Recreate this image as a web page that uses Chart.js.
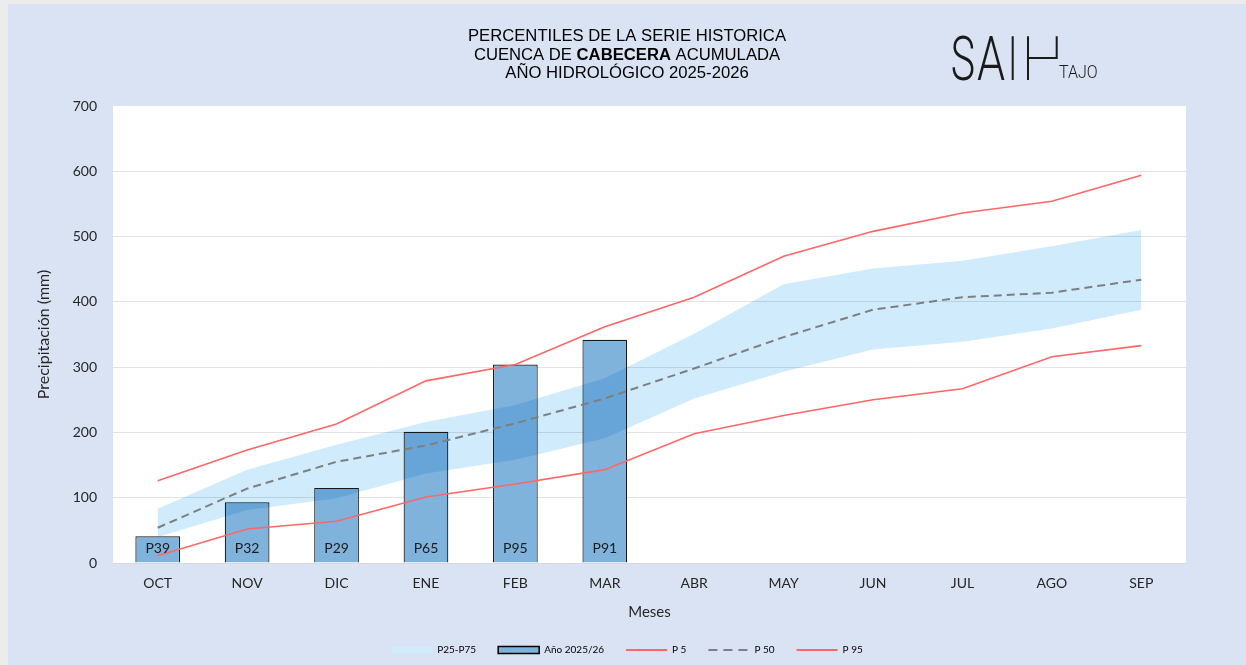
<!DOCTYPE html>
<html lang="es">
<head>
<meta charset="utf-8">
<title>Percentiles serie histórica - Cuenca de Cabecera</title>
<script src="https://cdn.jsdelivr.net/npm/chart.js@4.4.1/dist/chart.umd.min.js"></script>
<style>
  html, body { margin: 0; padding: 0; background: #dae3f3; overflow: hidden; }
  #wrap { position: absolute; left: 0; top: 0; width: 1246px; height: 665px; }
  #chart { display: block; }
</style>
</head>
<body>
<div id="wrap"><canvas id="chart" width="1246" height="665"></canvas></div>
<script>
// --- datos ---
const meses = ['OCT', 'NOV', 'DIC', 'ENE', 'FEB', 'MAR', 'ABR', 'MAY', 'JUN', 'JUL', 'AGO', 'SEP'];
const acumulado = [41, 93, 115, 201, 304, 342, null, null, null, null, null, null];
const percentilMes = ['P39', 'P32', 'P29', 'P65', 'P95', 'P91'];
const p5 = [11, 52, 64, 101, 121, 143, 198, 226, 250, 267, 316, 333];
const p25 = [40, 81, 99, 137, 158, 191, 252, 293, 327, 339, 359, 388];
const p50 = [54, 114, 155, 180, 214, 252, 298, 346, 388, 407, 414, 434];
const p75 = [83, 143, 181, 216, 242, 283, 351, 427, 451, 463, 485, 510];
const p95 = [126, 173, 213, 279, 304, 362, 407, 470, 508, 536, 554, 594];
const yTicks = [0, 100, 200, 300, 400, 500, 600, 700];

const bandColor = '#cfebfc';
const barColor = '#7fb3dc';
const red = '#ff6666';
const gray = '#7f7f7f';

Chart.defaults.font.family = 'Lato, "Open Sans", sans-serif';
Chart.defaults.color = '#262626';

// fondo azul del panel + area blanca del grafico
const fondo = {
  id: 'fondo',
  beforeDraw(chart) {
    const {ctx, chartArea: a} = chart;
    ctx.save();
    ctx.fillStyle = '#dae3f3';
    ctx.fillRect(0, 0, chart.width, chart.height);
    // borde claro arriba y a la izquierda
    ctx.fillStyle = '#ececec';
    ctx.fillRect(0, 0, chart.width, 4);
    ctx.fillRect(0, 0, 8, chart.height);
    ctx.fillStyle = '#ffffff';
    ctx.fillRect(a.left, a.top, a.right - a.left, a.bottom - a.top);
    ctx.restore();
  }
};

// la banda P25-P75 se mezcla con las barras (multiply)
const mezclaBanda = {
  id: 'mezclaBanda',
  afterDatasetDraw(chart, args) {
    if (args.index === 2) { chart.ctx.save(); chart.ctx.globalCompositeOperation = 'multiply'; }
    if (args.index === 0) chart.ctx.restore();
  }
};

// etiquetas de percentil dentro de cada barra
const etiquetasBarras = {
  id: 'etiquetasBarras',
  afterDatasetsDraw(chart) {
    const {ctx} = chart;
    const meta = chart.getDatasetMeta(2);
    const y0 = chart.scales.y.getPixelForValue(0);
    ctx.save();
    ctx.font = '14px Lato';
    ctx.fillStyle = '#1a1a1a';
    ctx.textAlign = 'center';
    ctx.textBaseline = 'middle';
    meta.data.forEach((bar, i) => {
      if (acumulado[i] == null) return;
      ctx.fillText(percentilMes[i], bar.x, y0 - 15);
    });
    ctx.restore();
  }
};

function textoAjustado(ctx, txt, left, base, ancho) {
  const m = ctx.measureText(txt);
  const ink = m.actualBoundingBoxLeft + m.actualBoundingBoxRight;
  const s = ancho / ink;
  ctx.save();
  ctx.translate(left + m.actualBoundingBoxLeft * s, base);
  ctx.scale(s, 1);
  ctx.fillText(txt, 0, 0);
  ctx.restore();
}

// titulo y logotipo
const cabecera = {
  id: 'cabecera',
  afterDraw(chart) {
    const {ctx} = chart;
    const cx = 627;
    ctx.save();
    ctx.fillStyle = '#000';
    ctx.textBaseline = 'middle';
    ctx.font = '16px "Liberation Sans", Arial, sans-serif';
    const l1 = 'PERCENTILES DE LA SERIE HISTORICA';
    const s = 318 / ctx.measureText(l1).width;

    const linea = (partes, y) => {
      let total = 0;
      partes.forEach(p => { ctx.font = (p.b ? 'bold ' : '') + '16px "Liberation Sans", Arial, sans-serif'; p.w = ctx.measureText(p.t).width; total += p.w; });
      ctx.save();
      ctx.translate(cx - total * s / 2, y);
      ctx.scale(s, 1);
      let x = 0;
      ctx.textAlign = 'left';
      partes.forEach(p => { ctx.font = (p.b ? 'bold ' : '') + '16px "Liberation Sans", Arial, sans-serif'; ctx.fillText(p.t, x, 0); x += p.w; });
      ctx.restore();
    };
    linea([{t: l1}], 37);
    linea([{t: 'CUENCA DE '}, {t: 'CABECERA', b: true}, {t: ' ACUMULADA'}], 55.5);
    linea([{t: 'AÑO HIDROLÓGICO 2025-2026'}], 74);

    // SAIH TAJO
    ctx.fillStyle = '#1a1a1a';
    ctx.strokeStyle = '#1a1a1a';
    ctx.textBaseline = 'alphabetic';
    ctx.textAlign = 'left';
    ctx.font = '300 61px Roboto, sans-serif';
    textoAjustado(ctx, 'S', 952, 80, 21.5);
    textoAjustado(ctx, 'A', 977, 80, 28);
    ctx.lineWidth = 2;
    ctx.beginPath();
    ctx.moveTo(1012.7, 36.3); ctx.lineTo(1012.7, 80);
    ctx.moveTo(1028, 36.3); ctx.lineTo(1028, 80);
    ctx.moveTo(1028, 58); ctx.lineTo(1057.7, 58);
    ctx.moveTo(1056.7, 36.3); ctx.lineTo(1056.7, 58);
    ctx.stroke();
    ctx.font = '300 19px Roboto, sans-serif';
    textoAjustado(ctx, 'TAJO', 1059, 78, 38);
    ctx.restore();
  }
};

const itemsLeyenda = [
  {text: 'P25-P75', fillStyle: bandColor, strokeStyle: bandColor, lineWidth: 0, pointStyle: 'rect', datasetIndex: 0},
  {text: 'Año 2025/26', fillStyle: barColor, strokeStyle: '#000', lineWidth: 1.5, pointStyle: 'rect', datasetIndex: 2},
  {text: 'P 5', fillStyle: 'transparent', strokeStyle: red, lineWidth: 2, pointStyle: 'line', datasetIndex: 3},
  {text: 'P 50', fillStyle: 'transparent', strokeStyle: gray, lineWidth: 2, lineDash: [9, 6], pointStyle: 'line', datasetIndex: 4},
  {text: 'P 95', fillStyle: 'transparent', strokeStyle: red, lineWidth: 2, pointStyle: 'line', datasetIndex: 5}
];

new Chart(document.getElementById('chart'), {
  type: 'bar',
  data: {
    labels: meses,
    datasets: [
      {type: 'line', label: 'P75', data: p75, borderWidth: 0, borderColor: 'transparent', pointRadius: 0, fill: '+1', backgroundColor: bandColor, order: 2},
      {type: 'line', label: 'P25', data: p25, borderWidth: 0, borderColor: 'transparent', pointRadius: 0, fill: false, order: 2},
      {type: 'bar', label: 'Año 2025/26', data: acumulado, backgroundColor: barColor, borderColor: '#1a1a1a', borderWidth: 1.2,
        barPercentage: 0.5, categoryPercentage: 1, order: 3},
      {type: 'line', label: 'P 5', data: p5, borderColor: red, borderWidth: 1.6, pointRadius: 0, fill: false, order: 1},
      {type: 'line', label: 'P 50', data: p50, borderColor: gray, borderWidth: 2, borderDash: [8, 5], pointRadius: 0, fill: false, order: 1},
      {type: 'line', label: 'P 95', data: p95, borderColor: red, borderWidth: 1.6, pointRadius: 0, fill: false, order: 1}
    ]
  },
  options: {
    responsive: false,
    animation: false,
    layout: { padding: { top: 106, left: 8, right: 0, bottom: 0 } },
    scales: {
      x: {
        offset: true,
        grid: { display: false },
        border: { display: true, color: '#d9d9d9' },
        ticks: { padding: 4, font: { size: 14 }, color: '#262626' },
        title: { display: true, text: 'Meses', font: { size: 15 }, color: '#262626', padding: { top: 0, bottom: 2 } },
        afterFit: s => { s.height = 60; }
      },
      y: {
        min: 0,
        max: 700,
        afterBuildTicks: s => { s.ticks = yTicks.map(v => ({value: v})); },
        grid: { drawTicks: false, color: c => c.tick.value === 700 ? 'transparent' : '#e3e3e3', lineWidth: 1 },
        border: { display: false },
        ticks: { padding: 16, font: { size: 14 }, color: '#262626' },
        title: { display: true, text: 'Precipitación (mm)', font: { size: 16 }, color: '#262626', padding: { top: 26, bottom: 0 } },
        afterFit: s => { s.width = 105; }
      },
      yR: {
        position: 'right',
        display: true,
        grid: { display: false },
        border: { display: false },
        ticks: { display: false },
        afterFit: s => { s.width = 60; }
      }
    },
    plugins: {
      tooltip: { enabled: false },
      legend: {
        position: 'bottom',
        maxHeight: 44,
        labels: {
          usePointStyle: true,
          pointStyleWidth: 41,
          boxHeight: 7,
          padding: 22,
          font: { size: 10 },
          color: '#262626',
          generateLabels: () => itemsLeyenda
        }
      }
    }
  },
  plugins: [fondo, mezclaBanda, etiquetasBarras, cabecera]
});
</script>
</body>
</html>
